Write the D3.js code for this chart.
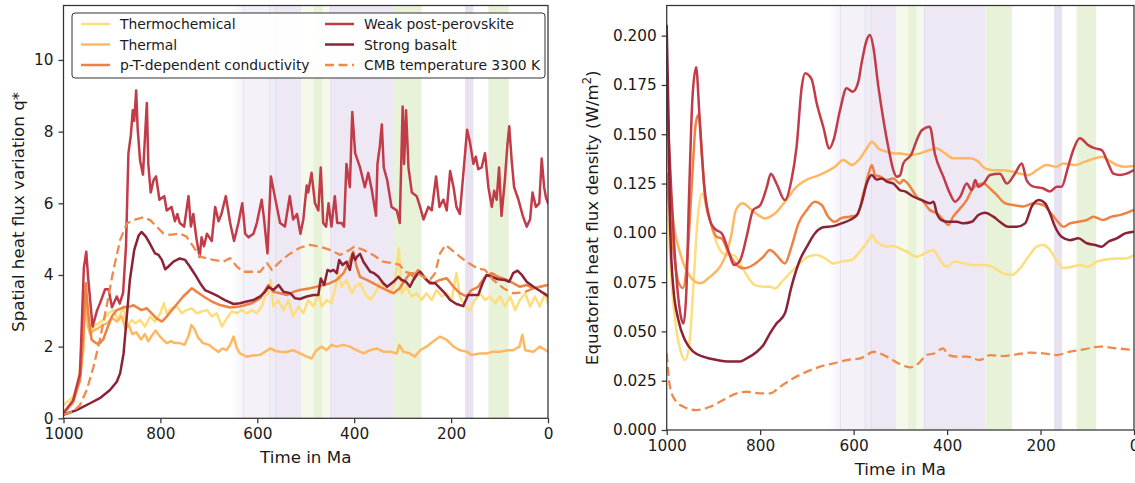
<!DOCTYPE html>
<html><head><meta charset="utf-8">
<script src="https://cdn.jsdelivr.net/npm/d3@7"></script>
<style>
html,body{margin:0;padding:0;background:#fff;}
svg{display:block;font-family:"DejaVu Sans",sans-serif;}
</style></head>
<body>
<svg id="c" width="1135" height="483"></svg>
<script>
// ---------------- DATA ----------------
const seriesNames = ["Thermochemical","Thermal","p-T-dependent conductivity","Weak post-perovskite","Strong basalt","CMB temperature 3300 K"];
const xTicks = [1000,800,600,400,200,0];
const leftYTicks = [0,2,4,6,8,10];
const rightYTicks = [0,0.025,0.05,0.075,0.1,0.125,0.15,0.175,0.2];

// time spans of shaded periods (Ma)
const fadeSpan = [654,628];
const purpleSpans = [[628,575],[575,562],[562,509],[449,318],[171,154]];
const greenSpans = [[509,484],[484,465],[465,449],[318,261],[123,81]];

// Left panel: spatial heat flux variation q*  ([time Ma, value])
const leftThermochemical = [[1000,0.37],[980,0.6],[969,1.07],[962,2.0],[955,3.7],[950,2.93],[945,2.37],[938,2.56],[928,2.65],[918,2.74],[907,2.93],[897,3.02],[887,2.74],[876,3.12],[870,2.56],[859,2.74],[852,2.65],[842,2.74],[832,2.56],[821,2.84],[811,2.7],[800,2.93],[793,3.21],[787,2.93],[777,3.07],[766,3.12],[756,2.93],[746,3.02],[735,3.07],[725,2.93],[715,2.98],[704,3.02],[694,2.84],[684,2.93],[673,2.56],[663,2.79],[653,2.98],[642,2.93],[632,3.02],[622,2.93],[611,3.02],[601,2.93],[591,3.12],[584,3.4],[577,3.49],[572,3.86],[567,3.12],[557,3.3],[546,3.02],[536,3.3],[526,2.84],[515,3.12],[505,2.93],[495,3.3],[484,3.12],[474,3.49],[467,3.12],[457,3.3],[447,3.21],[440,3.58],[433,4.05],[426,3.67],[416,3.86],[405,3.49],[398,3.67],[388,3.77],[378,3.49],[367,3.3],[357,3.49],[347,3.77],[337,3.67],[326,3.49],[316,3.77],[308,4.74],[302,3.49],[292,3.67],[281,3.4],[271,3.49],[261,3.3],[251,3.49],[240,3.3],[230,3.58],[219,3.4],[209,3.49],[199,3.3],[189,4.05],[182,3.4],[171,3.12],[161,3.02],[151,3.3],[140,3.49],[130,3.3],[120,3.4],[109,3.21],[99,3.4],[89,3.12],[78,3.4],[68,3.02],[58,3.3],[47,3.49],[37,3.12],[27,3.4],[17,3.12],[6,3.49],[0,3.2]];
const leftThermal = [[1000,0.14],[980,0.42],[966,1.07],[959,1.9],[955,3.5],[950,2.6],[945,2.35],[938,2.45],[930,2.5],[920,2.6],[910,2.65],[900,2.8],[890,2.7],[880,2.85],[872,2.5],[865,2.6],[858,2.35],[850,2.4],[840,2.2],[832,2.35],[825,2.15],[818,2.3],[810,2.45],[802,2.3],[795,2.2],[787,2.1],[778,2.15],[770,2.1],[760,2.1],[750,2.05],[742,2.3],[736,2.6],[730,2.5],[722,2.25],[712,2.1],[700,2.05],[690,1.95],[680,1.85],[672,1.95],[664,1.9],[656,2.05],[649,2.28],[642,1.95],[636,1.81],[622,1.72],[610,1.75],[594,1.77],[585,1.85],[573,1.95],[563,1.88],[553,1.86],[540,1.85],[526,1.9],[512,1.81],[498,1.72],[488,1.67],[478,1.9],[467,2.0],[457,1.9],[447,2.05],[436,2.0],[422,2.05],[409,2.0],[395,1.9],[381,1.81],[367,1.9],[354,1.95],[340,1.86],[326,1.86],[312,1.81],[307,2.05],[299,1.86],[285,1.81],[275,1.72],[264,1.9],[251,2.0],[237,2.14],[223,2.28],[209,2.19],[195,2.0],[182,1.9],[168,1.86],[158,1.77],[140,1.81],[127,1.81],[113,1.86],[99,1.86],[82,1.9],[72,1.9],[59,2.0],[53,2.33],[47,1.9],[30,1.86],[17,2.0],[0,1.86]];
const leftPTConductivity = [[1000,0.14],[980,0.5],[966,1.07],[959,2.37],[954,3.77],[949,2.93],[942,2.19],[932,2.09],[925,2.1],[918,2.2],[910,2.5],[900,2.85],[890,3.02],[875,3.1],[862,3.12],[856,3.16],[839,3.02],[828,3.07],[818,2.93],[808,2.79],[797,2.7],[787,2.84],[770,3.12],[753,3.4],[735,3.63],[725,3.53],[711,3.4],[694,3.26],[677,3.16],[656,3.09],[636,3.12],[611,3.21],[594,3.35],[577,3.72],[567,3.53],[553,3.49],[539,3.44],[525,3.53],[512,3.58],[491,3.63],[471,3.69],[450,3.77],[436,3.86],[422,4.05],[409,4.42],[402,4.65],[395,4.23],[388,3.95],[374,3.86],[361,3.77],[347,3.67],[333,3.58],[319,3.49],[306,3.63],[295,3.86],[285,4.05],[278,3.95],[268,4.14],[261,4.05],[251,3.86],[237,3.77],[223,3.86],[209,3.91],[195,3.67],[182,3.49],[168,3.4],[158,3.58],[144,3.67],[130,3.95],[116,4.05],[103,3.95],[85,3.86],[72,3.77],[58,3.67],[44,3.72],[30,3.63],[17,3.67],[0,3.72]];
const leftWeakPPv = [[1000,0.14],[980,0.5],[966,1.25],[958,4.2],[953,4.65],[949,3.9],[940,2.56],[931,3.0],[925,3.2],[914,3.6],[907,3.6],[900,3.1],[890,3.4],[884,3.2],[877,3.5],[871,4.8],[866,7.4],[861,7.9],[857,8.6],[854,8.3],[850,9.15],[847,8.1],[842,7.2],[836,6.8],[832,7.8],[828,8.8],[825,7.1],[820,6.3],[814,6.65],[809,6.75],[802,6.1],[792,6.2],[787,5.8],[777,5.9],[770,5.5],[765,5.7],[760,5.45],[751,5.35],[742,6.2],[737,5.35],[732,5.7],[726,5.05],[719,4.5],[715,5.05],[710,4.8],[704,5.15],[694,4.95],[687,5.9],[680,5.5],[674,5.7],[665,6.2],[656,5.45],[648,4.95],[639,5.45],[631,6.0],[625,5.15],[618,5.05],[608,5.15],[601,5.45],[591,6.1],[586,5.55],[579,4.6],[572,6.75],[564,6.2],[553,5.45],[543,5.35],[533,6.2],[526,5.55],[518,5.7],[511,5.15],[505,5.55],[498,6.5],[495,6.3],[488,6.85],[481,6.0],[474,5.8],[469,7.0],[464,5.45],[458,5.35],[453,6.0],[447,5.35],[440,6.2],[435,5.45],[426,5.45],[421,5.35],[416,7.1],[409,6.45],[404,8.55],[398,7.4],[388,7.0],[378,6.45],[371,6.85],[364,6.4],[355,5.65],[352,7.1],[347,7.6],[343,8.2],[339,7.0],[332,6.65],[323,5.9],[312,5.8],[306,5.45],[300,8.7],[297,7.1],[293,8.6],[288,7.0],[281,6.3],[271,6.2],[264,5.9],[257,5.55],[247,5.9],[240,5.8],[231,6.75],[224,5.9],[216,6.1],[209,5.8],[202,6.9],[195,6.45],[189,5.9],[182,5.7],[173,7.1],[167,8.05],[161,7.7],[154,7.1],[149,7.3],[144,6.95],[137,7.0],[130,7.4],[123,6.45],[116,5.9],[111,6.35],[106,6.1],[101,7.0],[96,5.65],[89,6.65],[84,7.6],[80,8.15],[75,7.2],[70,6.45],[61,6.1],[52,5.65],[44,5.35],[37,5.55],[32,6.3],[25,5.9],[18,6.0],[13,7.25],[8,6.45],[4,6.15],[0,6.0]];
const leftStrongBasalt = [[1000,0.1],[973,0.23],[945,0.42],[925,0.56],[904,0.79],[890,1.02],[883,1.26],[876,1.81],[870,2.74],[863,3.86],[854,4.7],[845,5.1],[839,5.2],[830,5.07],[822,4.88],[811,4.6],[804,4.56],[797,4.42],[790,4.16],[784,4.23],[773,4.37],[760,4.46],[749,4.42],[739,4.23],[728,4.0],[718,3.77],[708,3.58],[694,3.49],[680,3.4],[667,3.3],[649,3.19],[636,3.21],[622,3.26],[608,3.3],[594,3.4],[584,3.53],[577,3.67],[567,3.58],[556,3.72],[546,3.53],[532,3.49],[522,3.35],[512,3.33],[498,3.4],[484,3.44],[474,3.44],[469,3.9],[462,3.72],[455,4.14],[449,4.1],[443,4.14],[436,4.05],[431,4.42],[424,4.28],[416,4.37],[409,4.14],[403,4.6],[398,4.42],[394,4.51],[388,4.59],[381,4.37],[374,4.23],[367,4.09],[359,4.05],[350,3.95],[340,3.77],[332,3.67],[319,3.81],[309,3.95],[302,3.86],[293,3.81],[285,3.67],[278,3.86],[271,4.0],[264,4.09],[254,3.91],[244,3.77],[233,3.77],[223,3.63],[213,3.49],[202,3.3],[189,3.19],[175,3.13],[165,3.44],[154,3.44],[144,3.44],[135,3.77],[127,4.0],[116,3.95],[103,3.88],[89,3.86],[80,3.81],[72,4.05],[63,4.12],[54,4.0],[44,3.81],[30,3.67],[17,3.56],[0,3.41]];
const leftCMB3300 = [[1000,0.1],[980,0.19],[966,0.37],[952,0.79],[938,1.44],[925,2.19],[911,3.12],[897,4.14],[883,4.98],[869,5.44],[856,5.53],[835,5.61],[821,5.53],[808,5.35],[794,5.16],[780,5.12],[760,5.16],[746,5.07],[732,4.79],[718,4.51],[705,4.47],[691,4.42],[670,4.37],[656,4.47],[642,4.23],[629,4.09],[611,4.09],[594,4.09],[580,4.33],[570,4.14],[560,4.28],[549,4.42],[532,4.6],[512,4.76],[491,4.84],[471,4.79],[450,4.7],[429,4.56],[409,4.7],[400,4.79],[381,4.7],[361,4.56],[340,4.37],[319,4.33],[306,4.28],[295,4.09],[285,4.05],[271,4.05],[257,3.95],[244,3.86],[233,4.05],[223,4.6],[211,4.84],[199,4.7],[182,4.51],[168,4.37],[147,4.19],[130,4.14],[113,3.86],[92,3.63],[72,3.49],[51,3.51],[30,3.63],[0,3.72]];

// Right panel: equatorial heat flux density (W/m^2)
const rightThermochemical = [[1000,0.14],[993,0.0896],[982,0.0558],[971,0.0406],[961,0.0355],[952,0.0423],[943,0.0727],[934,0.1065],[925,0.12],[914,0.1133],[900,0.0997],[886,0.0913],[872,0.0887],[857,0.0887],[843,0.0845],[829,0.0786],[811,0.0735],[793,0.0727],[779,0.0727],[768,0.0718],[750,0.0761],[733,0.0803],[715,0.0845],[697,0.0879],[679,0.0887],[661,0.087],[643,0.0845],[626,0.0854],[604,0.0862],[590,0.0896],[578,0.093],[568,0.0963],[561,0.0989],[554,0.0963],[543,0.0943],[529,0.093],[515,0.0933],[501,0.0921],[486,0.0904],[465,0.0879],[447,0.0896],[429,0.0913],[415,0.0862],[401,0.0828],[383,0.0854],[365,0.0845],[344,0.0837],[319,0.0837],[297,0.082],[280,0.0794],[262,0.0786],[244,0.082],[226,0.0879],[208,0.093],[194,0.0938],[180,0.0913],[166,0.0862],[151,0.082],[133,0.0828],[116,0.0837],[98,0.0828],[80,0.0854],[59,0.0865],[37,0.087],[19,0.087],[0,0.0887]];
const rightThermal = [[1000,0.149],[986,0.1065],[971,0.0896],[950,0.0778],[929,0.0744],[907,0.0778],[886,0.0828],[872,0.0896],[861,0.0997],[852,0.1116],[837,0.115],[822,0.1124],[804,0.109],[790,0.1073],[768,0.1099],[747,0.1158],[722,0.1234],[700,0.127],[679,0.1288],[658,0.131],[640,0.1335],[622,0.1369],[604,0.1344],[586,0.1378],[572,0.1428],[561,0.1462],[547,0.1428],[529,0.1411],[511,0.1403],[501,0.1403],[479,0.1395],[458,0.1403],[437,0.142],[422,0.1428],[404,0.1403],[387,0.1378],[369,0.1378],[351,0.1378],[333,0.1361],[319,0.1327],[301,0.1318],[280,0.1318],[258,0.131],[244,0.13],[226,0.1293],[208,0.1318],[187,0.1344],[166,0.1335],[151,0.1352],[126,0.1344],[105,0.1361],[83,0.1378],[69,0.1386],[55,0.1369],[37,0.1344],[19,0.1335],[0,0.1339]];
const rightPTConductivity = [[1000,0.13],[985,0.09],[975,0.075],[965,0.072],[955,0.09],[945,0.13],[938,0.155],[932,0.16],[925,0.14],[918,0.118],[907,0.106],[893,0.098],[882,0.097],[868,0.09],[850,0.0837],[836,0.082],[815,0.0837],[793,0.0879],[779,0.0913],[765,0.0887],[747,0.0845],[733,0.093],[718,0.1048],[700,0.1116],[683,0.1158],[668,0.114],[654,0.108],[640,0.1056],[626,0.1075],[608,0.1082],[593,0.109],[579,0.12],[568,0.13],[561,0.1344],[554,0.1293],[543,0.1285],[529,0.1268],[515,0.1276],[501,0.125],[494,0.1268],[479,0.1234],[465,0.1183],[451,0.1158],[437,0.1116],[422,0.1099],[408,0.1065],[397,0.104],[387,0.1082],[372,0.1124],[358,0.1166],[347,0.1217],[337,0.1242],[322,0.125],[308,0.1225],[294,0.1192],[276,0.115],[258,0.1141],[237,0.1133],[215,0.115],[194,0.1141],[180,0.1107],[166,0.1065],[151,0.1031],[137,0.1048],[119,0.1056],[101,0.1065],[87,0.1082],[66,0.1065],[48,0.1082],[30,0.109],[0,0.1116]];
const rightWeakPPv = [[1000,0.17],[990,0.12],[980,0.08],[970,0.058],[964,0.054],[958,0.07],[952,0.12],[945,0.168],[937,0.184],[930,0.16],[920,0.125],[907,0.106],[897,0.102],[882,0.0997],[868,0.091],[856,0.0837],[843,0.086],[829,0.098],[815,0.1116],[800,0.114],[786,0.123],[777,0.13],[765,0.125],[747,0.1166],[733,0.1268],[722,0.1437],[711,0.174],[704,0.181],[690,0.178],[679,0.1657],[665,0.1538],[652,0.1428],[643,0.147],[629,0.1623],[615,0.1733],[602,0.1716],[590,0.1766],[583,0.186],[572,0.1978],[565,0.2003],[558,0.1944],[547,0.174],[536,0.157],[526,0.1437],[515,0.1318],[508,0.1285],[501,0.129],[494,0.135],[476,0.14],[465,0.147],[454,0.152],[437,0.1538],[426,0.14],[408,0.1285],[394,0.12],[383,0.1158],[372,0.1183],[358,0.125],[347,0.1217],[340,0.1268],[333,0.1234],[322,0.125],[308,0.1293],[287,0.13],[272,0.125],[255,0.13],[240,0.1352],[230,0.1268],[215,0.1234],[194,0.1225],[180,0.121],[165,0.1234],[155,0.1234],[141,0.1335],[130,0.142],[116,0.148],[98,0.1445],[83,0.1428],[69,0.142],[55,0.135],[44,0.13],[30,0.1293],[16,0.13],[0,0.1318]];
const rightStrongBasalt = [[1000,0.205],[996,0.157],[993,0.106],[986,0.0727],[975,0.0558],[961,0.0456],[943,0.0397],[922,0.0372],[893,0.0355],[864,0.0347],[843,0.0347],[829,0.0363],[807,0.0397],[793,0.0431],[779,0.049],[765,0.054],[747,0.0592],[733,0.0727],[715,0.0862],[700,0.093],[683,0.0997],[665,0.1028],[643,0.1034],[626,0.1048],[608,0.1065],[593,0.109],[583,0.115],[572,0.125],[561,0.1293],[551,0.127],[540,0.1276],[529,0.126],[515,0.125],[501,0.1217],[490,0.121],[472,0.1183],[454,0.1166],[437,0.115],[429,0.1158],[422,0.1099],[412,0.1065],[397,0.1056],[379,0.1056],[365,0.1048],[347,0.1056],[333,0.109],[319,0.1102],[301,0.1082],[287,0.1056],[269,0.1031],[251,0.1031],[233,0.1048],[219,0.1133],[203,0.1166],[190,0.115],[180,0.1099],[169,0.1031],[155,0.098],[137,0.0963],[119,0.0972],[101,0.0947],[83,0.0938],[69,0.093],[55,0.0955],[37,0.0972],[19,0.0997],[0,0.1006]];
const rightCMB3300 = [[1000,0.0389],[993,0.022],[982,0.0152],[964,0.0118],[936,0.0101],[907,0.0118],[879,0.0152],[850,0.0186],[829,0.0194],[800,0.0186],[779,0.0186],[757,0.022],[729,0.0262],[700,0.0296],[672,0.0321],[643,0.0338],[615,0.0355],[586,0.0363],[572,0.038],[558,0.0397],[544,0.0389],[522,0.0362],[501,0.0335],[479,0.0318],[461,0.0338],[444,0.038],[426,0.0389],[409,0.0414],[397,0.038],[379,0.0372],[358,0.0372],[330,0.0355],[308,0.038],[280,0.0375],[251,0.0384],[223,0.0392],[194,0.0389],[166,0.038],[137,0.0397],[108,0.0409],[73,0.0423],[37,0.0414],[0,0.0406]];

// ---------------- STYLE ----------------
const colors = ["#fedd7c","#feb862","#ee8244","#c23b48","#8c2236","#ef8a4c"];
const purpleShades = ["#f4f1f8","#f0ecf6","#ede8f4","#ede8f4","#e7e1f0"];
const greenShades = ["#f4f9eb","#e8f2d8","#f4f9eb","#e8f2d8","#e8f2d8"];
const fadeColor = "#f5f2f9";
const axisColor = "#333";
const textColor = "#1a1a1a";

const svg = d3.select("#c");
const defs = svg.append("defs");

function panel(cfg){
  const {id, x0, x1, yTop, yBot, yMax, yTicks, yFmt, series, curve, yLabel, yLabelX, xLabelY} = cfg;
  const x = d3.scaleLinear().domain([1000,0]).range([x0,x1]);
  const y = d3.scaleLinear().domain([0,yMax]).range([yBot,yTop]);
  const g = svg.append("g");

  defs.append("clipPath").attr("id","clip"+id).append("rect")
    .attr("x",x0).attr("y",yTop).attr("width",x1-x0).attr("height",yBot-yTop);

  const grad = defs.append("linearGradient").attr("id","fade"+id)
    .attr("x1","0%").attr("x2","100%").attr("y1","0%").attr("y2","0%");
  grad.append("stop").attr("offset","0%").attr("stop-color",fadeColor).attr("stop-opacity",0);
  grad.append("stop").attr("offset","100%").attr("stop-color",fadeColor).attr("stop-opacity",1);

  const bands = g.append("g").attr("clip-path",`url(#clip${id})`);
  bands.append("rect").attr("x",x(fadeSpan[0])).attr("width",x(fadeSpan[1])-x(fadeSpan[0]))
    .attr("y",yTop).attr("height",yBot-yTop).attr("fill",`url(#fade${id})`);
  bands.selectAll("rect.p").data(purpleSpans).join("rect").attr("class","p")
    .attr("x",d=>x(d[0])).attr("width",d=>x(d[1])-x(d[0]))
    .attr("y",yTop).attr("height",yBot-yTop).attr("fill",(d,i)=>purpleShades[i]);
  bands.selectAll("rect.gr").data(greenSpans).join("rect").attr("class","gr")
    .attr("x",d=>x(d[0])).attr("width",d=>x(d[1])-x(d[0]))
    .attr("y",yTop).attr("height",yBot-yTop).attr("fill",(d,i)=>greenShades[i]);
  bands.selectAll("line.e").data([purpleSpans[0][0],purpleSpans[1][0],purpleSpans[2][0],greenSpans[2][1]]).join("line").attr("class","e")
    .attr("x1",d=>x(d)).attr("x2",d=>x(d)).attr("y1",yTop).attr("y2",yBot)
    .attr("stroke","#d9d0e8").attr("stroke-width",0.8).attr("opacity",0.7);

  const line = d3.line().x(d=>x(d[0])).y(d=>y(d[1])).curve(curve);
  const lg = g.append("g").attr("clip-path",`url(#clip${id})`);
  series.forEach((s,i)=>{
    lg.append("path").datum(s).attr("d",line).attr("fill","none")
      .attr("stroke",colors[i]).attr("stroke-width",i===5?2.3:2.5)
      .attr("stroke-linejoin","round").attr("stroke-linecap",i===5?"butt":"round")
      .attr("stroke-dasharray",i===5?"9,4.5":null);
  });

  const xAxis = d3.axisBottom(x).tickValues(xTicks).tickSize(5).tickPadding(5).tickFormat(d3.format("d"));
  const yAxis = d3.axisLeft(y).tickValues(yTicks).tickSize(5).tickPadding(5).tickFormat(yFmt);
  const gx = g.append("g").attr("transform",`translate(0,${yBot})`).call(xAxis);
  const gy = g.append("g").attr("transform",`translate(${x0},0)`).call(yAxis);
  [gx,gy].forEach(a=>{
    a.select(".domain").remove();
    a.selectAll(".tick line").attr("stroke",axisColor).attr("stroke-width",1.25);
    a.selectAll(".tick text").attr("fill",textColor).style("font-size","15.3px").style("font-family","DejaVu Sans");
  });
  g.append("rect").attr("x",x0).attr("y",yTop).attr("width",x1-x0).attr("height",yBot-yTop)
    .attr("fill","none").attr("stroke",axisColor).attr("stroke-width",1.25);

  g.append("text").attr("x",(x0+x1)/2).attr("y",xLabelY).attr("text-anchor","middle")
    .attr("fill",textColor).style("font-size","16.7px").text("Time in Ma");
  const yl = g.append("text").attr("transform",`translate(${yLabelX},${(yTop+yBot)/2}) rotate(-90)`)
    .attr("text-anchor","middle").attr("fill",textColor).style("font-size","16.7px");
  yLabel(yl);
  return {x,y,g};
}

panel({id:"L", x0:63.5, x1:548, yTop:5.5, yBot:418.3, yMax:11.52, yTicks:leftYTicks, yFmt:d3.format("d"),
  series:[leftThermochemical,leftThermal,leftPTConductivity,leftWeakPPv,leftStrongBasalt,leftCMB3300],
  curve:d3.curveLinear, yLabelX:24, xLabelY:463,
  yLabel:t=>t.text("Spatial heat flux variation q*")});

panel({id:"R", x0:666.7, x1:1134, yTop:5.5, yBot:430, yMax:0.2153, yTicks:rightYTicks, yFmt:d3.format(".3f"),
  series:[rightThermochemical,rightThermal,rightPTConductivity,rightWeakPPv,rightStrongBasalt,rightCMB3300],
  curve:d3.curveMonotoneX, yLabelX:598, xLabelY:475,
  yLabel:t=>{t.append("tspan").text("Equatorial heat flux density (W/m");
    t.append("tspan").attr("baseline-shift","super").style("font-size","11.5px").text("2");
    t.append("tspan").text(")");}});

const leg = svg.append("g");
leg.append("rect").attr("x",72).attr("y",13).attr("width",473).attr("height",65).attr("rx",3)
  .attr("fill","#fff").attr("fill-opacity",0.92).attr("stroke","#333").attr("stroke-width",1);
const legCols = [81,325];
const legRows = [24,44.5,65];
seriesNames.forEach((n,i)=>{
  const cx = legCols[Math.floor(i/3)], cy = legRows[i%3];
  leg.append("line").attr("x1",cx).attr("x2",cx+29).attr("y1",cy).attr("y2",cy)
    .attr("stroke",colors[i]).attr("stroke-width",i===5?2.3:2.5)
    .attr("stroke-dasharray",i===5?"9,4.5":null);
  leg.append("text").attr("x",cx+39).attr("y",cy+5).attr("fill",textColor)
    .style("font-size","13.9px").text(n);
});
</script>
</body></html>
